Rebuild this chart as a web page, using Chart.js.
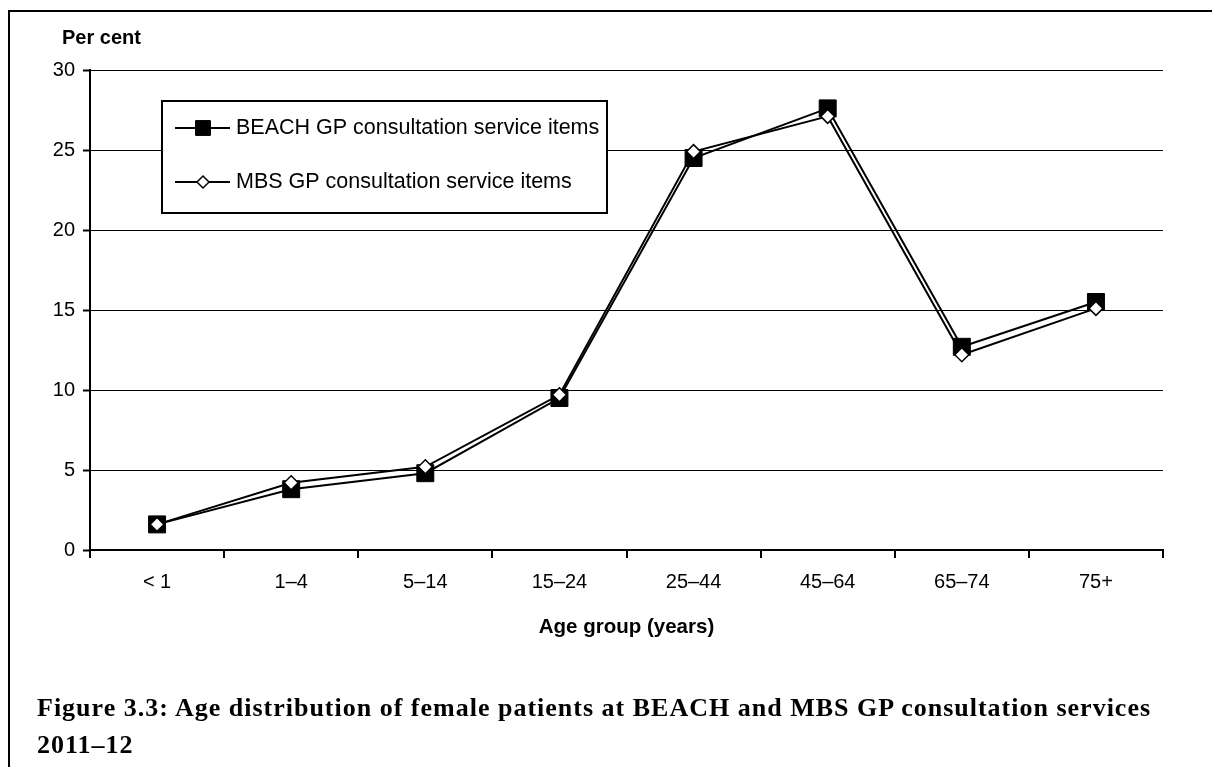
<!DOCTYPE html>
<html>
<head>
<meta charset="utf-8">
<script src="https://cdn.jsdelivr.net/npm/chart.js@4"></script>
<style>
  html, body { margin: 0; padding: 0; background: #fff; width: 1212px; height: 767px; overflow: hidden; }
  #frame { position: absolute; left: 8px; top: 10px; width: 1300px; height: 900px;
           border-top: 2px solid #000; border-left: 2px solid #000; }
  #wrap { position: absolute; left: 0; top: 0; width: 1212px; height: 767px; }
  #caption { position: absolute; left: 37px; top: 689px; font-family: "Liberation Serif", serif;
             font-weight: bold; font-size: 26px; letter-spacing: 1px; line-height: 37px; color: #000; white-space: nowrap; }
</style>
</head>
<body>
<div id="frame"></div>
<div id="wrap"><canvas id="c" width="1212" height="767"></canvas></div>
<div id="caption">Figure 3.3: Age distribution of female patients at BEACH and MBS GP consultation services<br>2011–12</div>
<script>
const categories = ['< 1', '1–4', '5–14', '15–24', '25–44', '45–64', '65–74', '75+'];
const beachValues = [1.6, 3.8, 4.8, 9.5, 24.5, 27.6, 12.7, 15.5];
const mbsValues = [1.6, 4.2, 5.2, 9.7, 24.9, 27.1, 12.2, 15.1];
const seriesNames = ['BEACH GP consultation service items', 'MBS GP consultation service items'];
const yTitle = 'Per cent';
const xTitle = 'Age group (years)';

const legendMarkerRadius = [10.5, 6];

const overlay = {
  id: 'overlay',
  afterDraw(chart) {
    const ctx = chart.ctx;
    ctx.save();
    // y title
    ctx.fillStyle = '#000';
    ctx.font = 'bold 20px "Liberation Sans", Arial, sans-serif';
    ctx.textAlign = 'left';
    ctx.textBaseline = 'middle';
    ctx.fillText(yTitle, 62, 38);
    // legend box
    const bx = 162, by = 101, bw = 445, bh = 112;
    ctx.fillStyle = '#fff';
    ctx.fillRect(bx, by, bw, bh);
    ctx.strokeStyle = '#000';
    ctx.lineWidth = 2;
    ctx.strokeRect(bx, by, bw, bh);
    const rowsY = [128, 182];
    chart.data.datasets.forEach((ds, i) => {
      const y = rowsY[i];
      ctx.strokeStyle = ds.borderColor;
      ctx.lineWidth = 2;
      ctx.beginPath();
      ctx.moveTo(175, y);
      ctx.lineTo(230, y);
      ctx.stroke();
      ctx.fillStyle = ds.pointBackgroundColor;
      ctx.strokeStyle = ds.pointBorderColor;
      ctx.lineWidth = ds.pointBorderWidth;
      Chart.helpers.drawPoint(ctx, {
        pointStyle: ds.pointStyle,
        rotation: 0,
        radius: legendMarkerRadius[i],
        borderWidth: ds.pointBorderWidth
      }, 203, y);
      ctx.fillStyle = '#000';
      ctx.font = '21.5px "Liberation Sans", Arial, sans-serif';
      ctx.textAlign = 'left';
      ctx.textBaseline = 'middle';
      ctx.fillText(ds.label, 236, y);
    });
    ctx.restore();
  }
};

new Chart(document.getElementById('c'), {
  type: 'line',
  data: {
    labels: categories,
    datasets: [
      {
        label: seriesNames[0],
        data: beachValues,
        borderColor: '#000',
        borderWidth: 2,
        pointStyle: 'rect',
        pointRadius: 12,
        pointBackgroundColor: '#000',
        pointBorderColor: '#000',
        pointBorderWidth: 1,
        tension: 0,
        order: 2
      },
      {
        label: seriesNames[1],
        data: mbsValues,
        borderColor: '#000',
        borderWidth: 2,
        pointStyle: 'rectRot',
        pointRadius: 7,
        pointBackgroundColor: '#fff',
        pointBorderColor: '#000',
        pointBorderWidth: 1.5,
        tension: 0,
        order: 1
      }
    ]
  },
  options: {
    responsive: false,
    animation: false,
    events: [],
    layout: { padding: { left: 0, top: 70, right: 49, bottom: 117 } },
    plugins: {
      legend: { display: false },
      tooltip: { enabled: false },
      title: { display: false }
    },
    scales: {
      x: {
        type: 'category',
        offset: true,
        grid: {
          display: true,
          drawOnChartArea: false,
          drawTicks: true,
          tickLength: 8,
          color: '#000',
          lineWidth: 2,
          offset: true
        },
        border: { display: true, color: '#000', width: 2 },
        ticks: {
          color: '#000',
          font: { family: '"Liberation Sans", Arial, sans-serif', size: 20 },
          padding: 12,
          maxRotation: 0,
          autoSkip: false
        },
        title: {
          display: true,
          text: xTitle,
          color: '#000',
          font: { family: '"Liberation Sans", Arial, sans-serif', size: 20.5, weight: 'bold' },
          padding: { top: 0, bottom: 10 }
        },
        afterFit(scale) { scale.height = 100; }
      },
      y: {
        min: 0,
        max: 30,
        ticks: {
          stepSize: 5,
          color: '#000',
          font: { family: '"Liberation Sans", Arial, sans-serif', size: 20 },
          padding: 8
        },
        grid: {
          color: '#000',
          lineWidth: 1,
          tickLength: 7,
          tickColor: '#000',
          tickWidth: 2,
          drawTicks: true
        },
        border: { display: true, color: '#000', width: 2 },
        afterFit(scale) { scale.width = 90; }
      }
    }
  },
  plugins: [overlay]
});
</script>
</body>
</html>
